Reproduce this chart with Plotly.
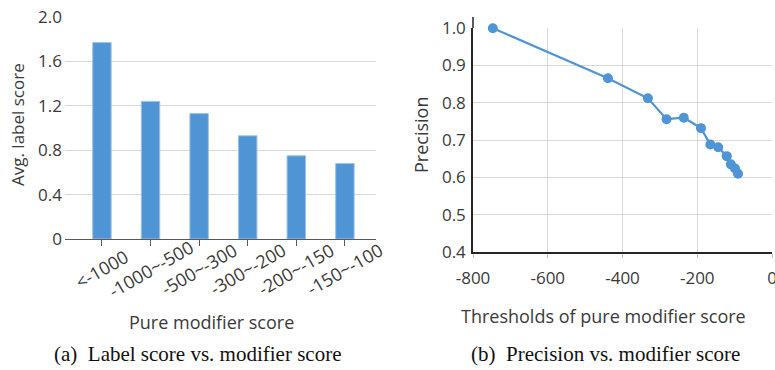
import plotly.graph_objects as go

# Left chart data
categories = ["<-1000", "-1000~-500", "-500~-300", "-300~-200", "-200~-150", "-150~-100"]
avg_label_score = [1.77, 1.24, 1.13, 0.93, 0.75, 0.68]

# Right chart data
thresholds = [-747, -439, -332, -282, -236, -190, -165, -144, -121, -110, -99, -91]
precision = [1.0, 0.866, 0.812, 0.756, 0.760, 0.732, 0.688, 0.681, 0.657, 0.635, 0.624, 0.610]

left_yticks = [0, 0.4, 0.8, 1.2, 1.6, 2.0]
left_yticktext = ["0", "0.4", "0.8", "1.2", "1.6", "2.0"]

FONT = "Open Sans"
TXT = "#3a3a3a"
GRID = "#d9d9d9"
BLUE = "#4f94d4"

W, H = 775, 370

def px(x):
    return x / W

def py(y):
    return (H - y) / H

fig = go.Figure()

cat_pos = list(range(len(categories)))

fig.add_trace(go.Bar(
    x=cat_pos, y=avg_label_score,
    width=0.38,
    marker=dict(color=BLUE, line=dict(color="#9dc3e6", width=1)),
    xaxis="x", yaxis="y", showlegend=False,
))

fig.add_trace(go.Scatter(
    x=thresholds, y=precision, mode="lines+markers",
    line=dict(color=BLUE, width=2.2),
    marker=dict(color=BLUE, size=10),
    xaxis="x2", yaxis="y2", showlegend=False, cliponaxis=False,
))

tickfont = dict(family=FONT, size=17, color=TXT)

fig.update_layout(
    width=W, height=H,
    margin=dict(l=0, r=0, t=0, b=0, autoexpand=False),
    paper_bgcolor="white", plot_bgcolor="white",
    xaxis=dict(
        domain=[px(65), px(376)],
        anchor="y", automargin=False,
        range=[-0.76, 5.64],
        tickmode="array",
        tickvals=cat_pos,
        showticklabels=False,
        ticks="outside", ticklen=6, tickcolor="#595959", tickwidth=1,
        showline=True, linecolor="#595959", linewidth=1,
        showgrid=False, zeroline=False,
    ),
    yaxis=dict(
        domain=[py(239), py(17)],
        anchor="x", automargin=False,
        range=[0, 2.0005],
        tickmode="array",
        tickvals=left_yticks,
        ticktext=left_yticktext,
        showgrid=True, gridcolor=GRID, gridwidth=1,
        showline=False, zeroline=False,
        ticks="", tickfont=tickfont,
        ticklabelstandoff=2,
    ),
    xaxis2=dict(
        domain=[px(473), px(772)],
        anchor="y2", automargin=False,
        range=[-800, 0],
        tickmode="array",
        tickvals=[-800, -600, -400, -200, 0],
        ticktext=["-800", "-600", "-400", "-200", "0"],
        showgrid=True, gridcolor=GRID, gridwidth=1,
        showline=True, linecolor="#262626", linewidth=1.5,
        ticks="outside", ticklen=4, tickcolor="#bfbfbf",
        ticklabelstandoff=6,
        ticklabeloverflow="allow",
        zeroline=False,
        tickfont=tickfont,
    ),
    yaxis2=dict(
        domain=[py(252), py(28)],
        anchor="x2", automargin=False,
        range=[0.4, 1.0005],
        tickmode="array",
        tickvals=[0.4, 0.5, 0.6, 0.7, 0.8, 0.9, 1.0],
        ticktext=["0.4", "0.5", "0.6", "0.7", "0.8", "0.9", "1.0"],
        showgrid=True, gridcolor=GRID, gridwidth=1,
        showline=True, linecolor="#262626", linewidth=1.5,
        ticks="", zeroline=False,
        tickfont=tickfont,
        ticklabelstandoff=2,
    ),
    shapes=[
        dict(type="line", xref="paper", yref="paper",
             x0=px(473), x1=px(473), y0=py(28), y1=py(17),
             line=dict(color="#262626", width=1.5)),
    ],
)

ann = [
    dict(text="Avg. label score", x=px(17), y=py(125), textangle=-90,
         font=dict(family=FONT, size=17, color=TXT)),
    dict(text="Pure modifier score", x=px(211), y=py(322),
         font=dict(family=FONT, size=18, color=TXT)),
    dict(text="(a)  Label score vs. modifier score", x=px(197), y=py(354),
         font=dict(family="Liberation Serif", size=21, color="#111111")),
    dict(text="Precision", x=px(421), y=py(135), textangle=-90,
         font=dict(family=FONT, size=18, color=TXT)),
    dict(text="Thresholds of pure modifier score", x=px(603), y=py(316),
         font=dict(family=FONT, size=18, color=TXT)),
    dict(text="(b)  Precision vs. modifier score", x=px(605), y=py(354),
         font=dict(family="Liberation Serif", size=21, color="#111111")),
]
for a in ann:
    a.update(xref="paper", yref="paper")

# Category labels, centred on their ticks and rotated like the original
for pos, label in zip(cat_pos, categories):
    ann.append(dict(text=label, x=pos, xref="x", y=py(269), yref="paper",
                    textangle=-30,
                    font=dict(family=FONT, size=18, color=TXT)))

for a in ann:
    a.update(showarrow=False, xanchor="center", yanchor="middle")
fig.update_layout(annotations=ann)

fig.write_html("out.html")
